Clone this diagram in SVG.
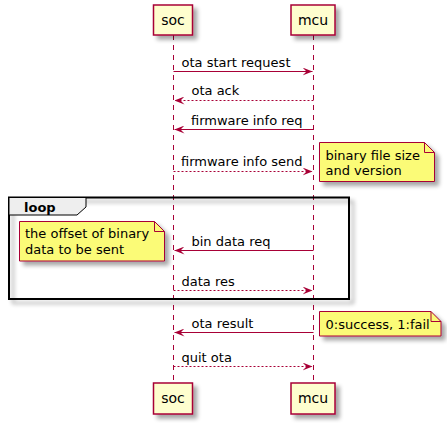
<svg xmlns="http://www.w3.org/2000/svg" width="447" height="427" viewBox="0 0 447 427">
<defs>
<filter id="sh" x="-20%" y="-20%" width="150%" height="160%">
<feGaussianBlur in="SourceAlpha" stdDeviation="2" result="b"/>
<feOffset in="b" dx="4" dy="4" result="o"/>
<feComponentTransfer in="o" result="c"><feFuncA type="linear" slope="0.35"/></feComponentTransfer>
<feMerge><feMergeNode in="c"/><feMergeNode in="SourceGraphic"/></feMerge>
</filter>
<marker id="ah" viewBox="0 0 10 8" refX="10" refY="4" markerWidth="10" markerHeight="8" markerUnits="userSpaceOnUse" orient="auto">
<polygon points="0,0 10,4 0,8 4,4" fill="#A80036"/>
</marker>
</defs>
<style>
text{font-family:"DejaVu Sans",Verdana,sans-serif;font-size:13px;fill:#000}
.part rect{fill:#FEFECE;stroke:#A80036;stroke-width:1.5}
.part text{font-size:14px;text-anchor:middle}
.life{stroke:#A80036;stroke-width:1;stroke-dasharray:5,5}
.msg{stroke:#A80036;stroke-width:1;fill:none}
.dash{stroke-dasharray:2,2}
.note polygon{fill:#FBFB77;stroke:#A80036;stroke-width:1}
.note path{fill:none;stroke:#A80036;stroke-width:1}
</style>
<g id="lifelines">
<line class="life" x1="173.5" y1="35" x2="173.5" y2="383"/>
<line class="life" x1="313.5" y1="35" x2="313.5" y2="383"/>
</g>
<g id="loop">
<rect x="9" y="197.5" width="340" height="101.5" fill="none" stroke="#000" stroke-width="2" filter="url(#sh)"/>
<polygon points="9,197.5 86,197.5 86,207 77,215 9,215" fill="#EEEEEE" stroke="#000" stroke-width="1"/>
<text x="24" y="212" font-weight="bold">loop</text>
</g>
<g id="soc" class="part">
<rect x="153.5" y="5" width="39" height="30" filter="url(#sh)"/>
<text x="173" y="25">soc</text>
</g>
<g id="mcu" class="part">
<rect x="291" y="5" width="44" height="30" filter="url(#sh)"/>
<text x="313" y="25">mcu</text>
</g>
<g id="soc_bottom" class="part">
<rect x="153.5" y="383" width="39" height="31" filter="url(#sh)"/>
<text x="173" y="403">soc</text>
</g>
<g id="mcu_bottom" class="part">
<rect x="291" y="383" width="44" height="31" filter="url(#sh)"/>
<text x="313" y="403">mcu</text>
</g>
<g id="connectors">
<line class="msg" x1="173.5" y1="71.5" x2="312.5" y2="71.5" marker-end="url(#ah)"/>
<text x="181.5" y="66.5">ota start request</text>
<line class="msg dash" x1="313.5" y1="100.5" x2="174.5" y2="100.5" marker-end="url(#ah)"/>
<text x="191.5" y="94.5">ota ack</text>
<line class="msg" x1="313.5" y1="129.5" x2="174.5" y2="129.5" marker-end="url(#ah)"/>
<text x="191" y="124.5">firmware info req</text>
<line class="msg dash" x1="173.5" y1="171.5" x2="312.5" y2="171.5" marker-end="url(#ah)"/>
<text x="181" y="166">firmware info send</text>
<line class="msg" x1="313.5" y1="250.5" x2="174.5" y2="250.5" marker-end="url(#ah)"/>
<text x="191.5" y="246">bin data req</text>
<line class="msg dash" x1="173.5" y1="290.5" x2="312.5" y2="290.5" marker-end="url(#ah)"/>
<text x="181.5" y="286">data res</text>
<line class="msg" x1="313.5" y1="332.5" x2="174.5" y2="332.5" marker-end="url(#ah)"/>
<text x="191.5" y="327.5">ota result</text>
<line class="msg dash" x1="173.5" y1="366.5" x2="312.5" y2="366.5" marker-end="url(#ah)"/>
<text x="181.5" y="361.5">quit ota</text>
</g>
<g id="note_binary" class="note">
<polygon points="319.5,142.5 319.5,181.5 434.5,181.5 434.5,152.5 424.5,142.5" filter="url(#sh)"/>
<path d="M424.5,142.5 L424.5,152.5 L434.5,152.5"/>
<text x="325.5" y="159.5">binary file size</text>
<text x="325.5" y="175">and version</text>
</g>
<g id="note_offset" class="note">
<polygon points="19.5,221.5 19.5,261 164.5,261 164.5,231.5 154.5,221.5" filter="url(#sh)"/>
<path d="M154.5,221.5 L154.5,231.5 L164.5,231.5"/>
<text x="25" y="238">the offset of binary</text>
<text x="25" y="253.5">data to be sent</text>
</g>
<g id="note_result" class="note">
<polygon points="319.5,311.5 319.5,336 441,336 441,321.5 431,311.5" filter="url(#sh)"/>
<path d="M431,311.5 L431,321.5 L441,321.5"/>
<text x="325.5" y="328.5">0:success, 1:fail</text>
</g>
</svg>
